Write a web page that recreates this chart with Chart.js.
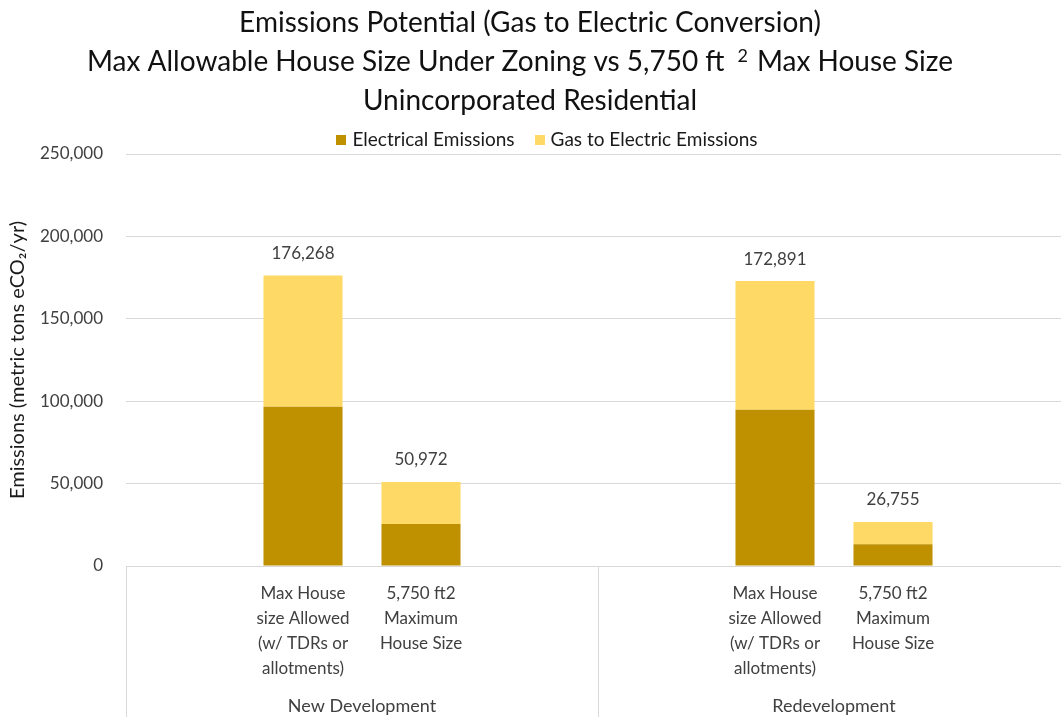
<!DOCTYPE html>
<html>
<head>
<meta charset="utf-8">
<script src="https://cdn.jsdelivr.net/npm/chart.js@4.4.1/dist/chart.umd.min.js"></script>
<style>
  html, body { margin: 0; padding: 0; background: #fff; overflow: hidden; }
  #wrap { width: 1070px; height: 717px; }
</style>
</head>
<body>
<div id="wrap"><canvas id="chart" width="1070" height="717"></canvas></div>
<script>
// slots per group: blank, bar, bar, blank
const categories = [
  "",
  ["Max House", "size Allowed", "(w/ TDRs or", "allotments)"],
  ["5,750 ft2", "Maximum", "House Size"],
  "",
  "",
  ["Max House", "size Allowed", "(w/ TDRs or", "allotments)"],
  ["5,750 ft2", "Maximum", "House Size"],
  ""
];
const groups = ["New Development", "Redevelopment"];
const electrical = [null, 96700, 25500, null, null, 94800, 13150, null];
const gasToElectric = [null, 79568, 25472, null, null, 78091, 13605, null];
const yTicks = [0, 50000, 100000, 150000, 200000, 250000];

const FONT = "Lato, 'Open Sans', sans-serif";
const DARK = "#BF9000";
const LIGHT = "#FFD966";
const GRID = "#d9d9d9";

const fmt = v => Number(v).toLocaleString("en-US");

// three-line heading with the raised "2"
const headingPlugin = {
  id: "heading",
  afterDraw(chart) {
    const ctx = chart.ctx;
    ctx.save();
    ctx.fillStyle = "#111";
    ctx.textBaseline = "alphabetic";
    ctx.font = "28px " + FONT;
    ctx.textAlign = "center";
    ctx.fillText("Emissions Potential (Gas to Electric Conversion)", 530, 32);
    ctx.fillText("Unincorporated Residential", 530, 110);

    const a = "Max Allowable House Size Under Zoning vs 5,750 ft";
    const b = "Max House Size";
    const wa = ctx.measureText(a).width;
    const wb = ctx.measureText(b).width;
    ctx.font = "18px " + FONT;
    const w2 = ctx.measureText("2").width;
    const total = wa + 13 + w2 + 9 + wb;
    let x = 520 - total / 2;
    ctx.textAlign = "left";
    ctx.font = "28px " + FONT;
    ctx.fillText(a, x, 71);
    x += wa + 13;
    ctx.font = "18px " + FONT;
    ctx.fillText("2", x, 62);
    x += w2 + 9;
    ctx.font = "28px " + FONT;
    ctx.fillText(b, x, 71);
    ctx.restore();
  }
};

// one-row legend under the heading, built from the datasets
const legendRowPlugin = {
  id: "legendRow",
  afterDraw(chart) {
    const ctx = chart.ctx;
    const sets = chart.data.datasets;
    const box = 10, gapText = 6, gapItem = 20, cy = 140;
    ctx.save();
    ctx.font = "19px " + FONT;
    const widths = sets.map(d => box + gapText + ctx.measureText(d.label).width);
    const total = widths.reduce((s, w) => s + w, 0) + gapItem * (sets.length - 1);
    let x = 547 - total / 2;
    ctx.textBaseline = "middle";
    ctx.textAlign = "left";
    sets.forEach((d, i) => {
      ctx.fillStyle = d.backgroundColor;
      ctx.fillRect(Math.round(x), cy - box / 2, box, box);
      ctx.fillStyle = "#1a1a1a";
      ctx.fillText(d.label, x + box + gapText, cy);
      x += widths[i] + gapItem;
    });
    ctx.restore();
  }
};

// stack totals above each bar
const totalsPlugin = {
  id: "totals",
  afterDatasetsDraw(chart) {
    const ctx = chart.ctx;
    const x = chart.scales.x, y = chart.scales.y;
    ctx.save();
    ctx.font = "17px " + FONT;
    ctx.fillStyle = "#404040";
    ctx.textAlign = "center";
    ctx.textBaseline = "middle";
    categories.forEach((c, i) => {
      if (electrical[i] == null) return;
      const t = electrical[i] + gasToElectric[i];
      ctx.fillText(fmt(t), x.getPixelForValue(i), y.getPixelForValue(t) - 22);
    });
    ctx.restore();
  }
};

// group dividers and group names under the category labels
const groupAxisPlugin = {
  id: "groupAxis",
  afterDraw(chart) {
    const ctx = chart.ctx;
    const x = chart.scales.x;
    const area = chart.chartArea;
    const bottom = chart.height;
    const per = categories.length / groups.length;
    const step = x.getPixelForValue(1) - x.getPixelForValue(0);
    ctx.save();
    ctx.strokeStyle = GRID;
    ctx.lineWidth = 1;
    for (let g = 0; g <= groups.length; g++) {
      const px = Math.round(x.getPixelForValue(g * per) - step / 2) + 0.5;
      ctx.beginPath();
      ctx.moveTo(px, area.bottom);
      ctx.lineTo(px, bottom);
      ctx.stroke();
    }
    ctx.font = "18px " + FONT;
    ctx.fillStyle = "#404040";
    ctx.textAlign = "center";
    ctx.textBaseline = "middle";
    groups.forEach((name, g) => {
      const cx = (x.getPixelForValue(g * per) + x.getPixelForValue(g * per + per - 1)) / 2;
      ctx.fillText(name, cx, 706);
    });
    ctx.restore();
  }
};

new Chart(document.getElementById("chart"), {
  type: "bar",
  data: {
    labels: categories,
    datasets: [
      { label: "Electrical Emissions", data: electrical, backgroundColor: DARK },
      { label: "Gas to Electric Emissions", data: gasToElectric, backgroundColor: LIGHT }
    ]
  },
  options: {
    responsive: false,
    animation: false,
    devicePixelRatio: 1,
    categoryPercentage: 1,
    barPercentage: 0.67,
    layout: { padding: { top: 154, left: 0, right: 0, bottom: 0 } },
    plugins: {
      title: { display: false },
      tooltip: { enabled: false },
      legend: { display: false }
    },
    scales: {
      x: {
        stacked: true,
        grid: { display: false, drawTicks: false },
        border: { display: true, color: GRID },
        ticks: {
          autoSkip: false,
          maxRotation: 0,
          minRotation: 0,
          padding: 15,
          font: { family: FONT, size: 17, lineHeight: 1.47 },
          color: "#404040"
        },
        afterFit: s => { s.height = 151; }
      },
      y: {
        stacked: true,
        min: 0,
        max: 250000,
        afterBuildTicks: s => { s.ticks = yTicks.map(v => ({ value: v })); },
        grid: { color: GRID, drawTicks: false },
        border: { display: false },
        ticks: {
          padding: 23,
          font: { family: FONT, size: 17 },
          color: "#404040",
          callback: v => fmt(v)
        },
        title: {
          display: true,
          text: "Emissions (metric tons eCO₂/yr)",
          font: { family: FONT, size: 20 },
          color: "#1a1a1a",
          padding: { top: 6, bottom: 0 }
        },
        afterFit: s => { s.width = 126; }
      }
    }
  },
  plugins: [headingPlugin, legendRowPlugin, totalsPlugin, groupAxisPlugin]
});
</script>
</body>
</html>
